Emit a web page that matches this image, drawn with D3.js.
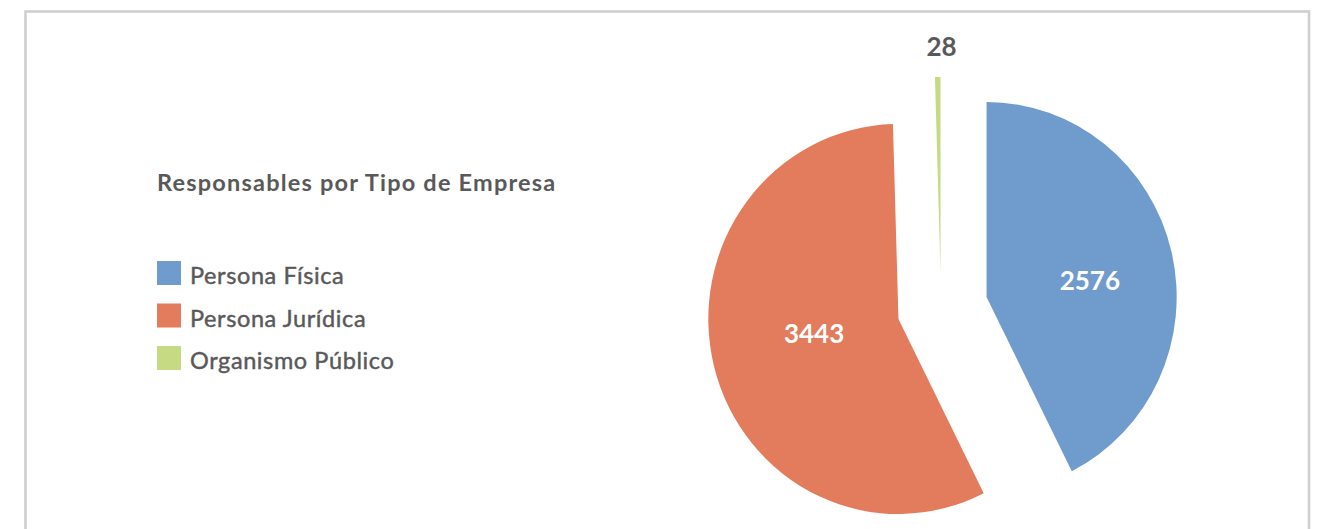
<!DOCTYPE html>
<html>
<head>
<meta charset="utf-8">
<script src="https://cdn.jsdelivr.net/npm/d3@7"></script>
<style>
  body { margin: 0; background: #fff; }
  text { font-family: Lato, "Open Sans", sans-serif; }
</style>
</head>
<body>
<svg id="chart"></svg>
<script>
// Data
const categories = ["Persona Física", "Persona Jurídica", "Organismo Público"];
const values = [2576, 3443, 28];
const chartTitle = "Responsables por Tipo de Empresa";

// Layout
const width = 1319;
const height = 529;
const pieCenter = [941, 308];
const radius = 195;
// the original pie is a little narrower than it is tall
const squeezeX = 0.975;
// how far each slice is pulled out from the centre
const explode = [48, 45, 36];
// where the inside labels sit, as a share of the radius, and a small turn
const labelDist = [0.55, 0.45];
const labelTurn = 4.5 * Math.PI / 180;
const colors = ["#709bcd", "#e27c5c", "#c6da84"];
const textColor = "#595959";

const svg = d3.select("#chart")
              .attr("width", width)
              .attr("height", height);

// frame round the chart (bottom edge runs out of the picture)
svg.append("rect")
   .attr("x", 25.5)
   .attr("y", 11.5)
   .attr("width", 1283.5)
   .attr("height", 560)
   .attr("fill", "none")
   .attr("stroke", "#cfcfcf")
   .attr("stroke-width", 2.6);

const pie = d3.pie().sort(null).value(d => d);
const slices = pie(values);

const arc = d3.arc().innerRadius(0).outerRadius(radius);

// unit vector at an angle (0 = up, clockwise)
const unit = a => [Math.sin(a), -Math.cos(a)];
const midAngle = d => (d.startAngle + d.endAngle) / 2;

// pixel position of each slice's tip after it is pulled out
const tip = (d, i) => {
   const [ux, uy] = unit(midAngle(d));
   return [pieCenter[0] + ux * explode[i] * squeezeX, pieCenter[1] + uy * explode[i]];
};

const sliceGroup = svg.append("g");

sliceGroup.selectAll("path")
          .data(slices)
          .enter()
          .append("path")
          .attr("transform", (d, i) => {
             const [tx, ty] = tip(d, i);
             return `translate(${tx},${ty}) scale(${squeezeX},1)`;
          })
          .attr("d", arc)
          .attr("fill", (d, i) => colors[i]);

// value labels: inside for big slices, above the tiny one
const labelPos = (d, i) => {
   const [tx, ty] = tip(d, i);
   if (i < 2) {
      const [ux, uy] = unit(midAngle(d) + labelTurn);
      return [tx + ux * radius * labelDist[i] * squeezeX, ty + uy * radius * labelDist[i]];
   }
   return [tx + 1, ty - radius - 30];
};

svg.append("g")
   .selectAll("text")
   .data(slices)
   .enter()
   .append("text")
   .attr("x", (d, i) => labelPos(d, i)[0])
   .attr("y", (d, i) => labelPos(d, i)[1])
   .attr("dy", "0.35em")
   .attr("text-anchor", "middle")
   .attr("font-size", 26)
   .attr("font-weight", "bold")
   .attr("fill", (d, i) => i < 2 ? "#fff" : textColor)
   .text(d => d.data);

// legend
const legend = svg.append("g").attr("transform", "translate(157,0)");

legend.append("text")
      .attr("x", 0)
      .attr("y", 191)
      .attr("font-size", 23.5)
      .attr("font-weight", "bold")
      .attr("letter-spacing", 1.2)
      .attr("fill", textColor)
      .text(chartTitle);

const legendY = d3.scalePoint()
                  .domain(categories)
                  .range([284, 369]);

const item = legend.selectAll("g.item")
                   .data(categories)
                   .enter()
                   .append("g")
                   .attr("class", "item")
                   .attr("transform", d => `translate(0,${legendY(d)})`);

item.append("rect")
    .attr("x", 0)
    .attr("y", -23)
    .attr("width", 24)
    .attr("height", 24)
    .attr("fill", (d, i) => colors[i]);

// a thin outline makes the regular face look as heavy as the original
item.append("text")
    .attr("x", 33)
    .attr("y", 0)
    .attr("font-size", 23.5)
    .attr("letter-spacing", 0.6)
    .attr("fill", textColor)
    .attr("stroke", textColor)
    .attr("stroke-width", 0.45)
    .text(d => d);
</script>
</body>
</html>
